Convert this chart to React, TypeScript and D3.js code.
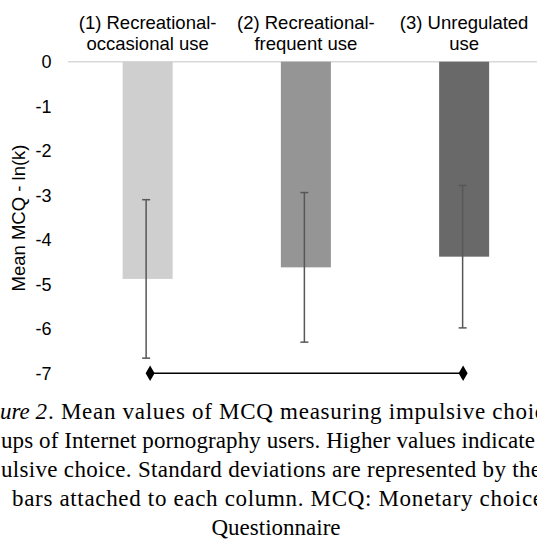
// Bar chart of mean MCQ ln(k) per user group, with SD error bars.

import * as d3 from "d3";

const groups = ["g1", "g2", "g3"];
const groupLabels = [
  ["(1) Recreational-", "occasional use"],
  ["(2) Recreational-", "frequent use"],
  ["(3) Unregulated", "use"],
];
const means = [-4.88, -4.62, -4.38];
const sds = [1.78, 1.68, 1.6];
const barColors = ["#cfcfcf", "#959595", "#696969"];
const yTicks = [0, -1, -2, -3, -4, -5, -6, -7];
// significant difference marker between group 1 and group 3
const comparison = { from: 0, to: 2, value: -7 };

const captionLines = [
  { italic: "ure 2", rest: ". Mean values of MCQ measuring impulsive choic" },
  { italic: "", rest: "ups of Internet pornography users. Higher values indicate" },
  { italic: "", rest: "ulsive choice. Standard deviations are represented by the" },
  { italic: "", rest: "bars attached to each column. MCQ: Monetary choice" },
  { italic: "", rest: "Questionnaire" },
];

export default function App() {
  const width = 537;
  const height = 551;

  const x = d3.scaleBand(groups, [68.5, 543.25]);
  const barW = x.bandwidth() * 0.316;
  const cx = (i: number) => (x(groups[i]) as number) + x.bandwidth() / 2;
  const y = d3.scaleLinear([0, -7], [61.7, 373.3]);

  const sans = "'Liberation Sans', Arial, sans-serif";
  const serif = "'Liberation Serif', 'Times New Roman', serif";

  const diamond = d3.symbol(d3.symbolDiamond, 70)();

  // caption line layout (justified text, cropped at the page edges)
  const capY = (i: number) => 419 + i * 29;
  const capX = [48, 1, 1, 12];
  const capEnd = [545, 535, 541, 543];

  return (
    <svg
      width={width}
      height={height}
      style={{ position: "absolute", left: 0, top: 0, background: "#fff" }}
    >
      {/* group labels on top */}
      <g fontFamily={sans} fontSize={18.5} fill="#000" textAnchor="middle">
        {groupLabels.map((lines, i) =>
          lines.map((t, j) => (
            <text key={`${i}-${j}`} x={cx(i)} y={29 + j * 21}>
              {t}
            </text>
          )),
        )}
      </g>

      {/* zero line */}
      <line x1={68} x2={width} y1={y(0)} y2={y(0)} stroke="#d9d9d9" strokeWidth={1.5} />

      {/* y ticks */}
      <g fontFamily={sans} fontSize={18} fill="#000" textAnchor="end">
        {yTicks.map((t) => (
          <text key={t} x={51.5} y={y(t)} dy="0.36em">
            {t}
          </text>
        ))}
      </g>
      <text
        transform="translate(25, 218) rotate(-90)"
        fontFamily={sans}
        fontSize={18.5}
        textAnchor="middle"
      >
        Mean MCQ - ln(k)
      </text>

      {/* bars */}
      {means.map((m, i) => (
        <rect
          key={i}
          x={cx(i) - barW / 2}
          y={y(0)}
          width={barW}
          height={y(m) - y(0)}
          fill={barColors[i]}
        />
      ))}

      {/* error bars */}
      <g stroke="#575757" strokeWidth={1.5}>
        {means.map((m, i) => (
          <g key={i}>
            <line x1={cx(i) - 1.5} x2={cx(i) - 1.5} y1={y(m + sds[i])} y2={y(m - sds[i])} />
            <line x1={cx(i) - 5.5} x2={cx(i) + 2.5} y1={y(m + sds[i])} y2={y(m + sds[i])} />
            <line x1={cx(i) - 5.5} x2={cx(i) + 2.5} y1={y(m - sds[i])} y2={y(m - sds[i])} />
          </g>
        ))}
      </g>

      {/* comparison line */}
      <line
        x1={cx(comparison.from) + 2.5}
        x2={cx(comparison.to) - 1}
        y1={y(comparison.value)}
        y2={y(comparison.value)}
        stroke="#000"
        strokeWidth={1.5}
      />
      {[cx(comparison.from) + 2.5, cx(comparison.to) - 1].map((px, i) => (
        <path key={i} d={diamond ?? ""} transform={`translate(${px},${y(comparison.value)})`} fill="#000" />
      ))}

      {/* caption */}
      <g fontFamily={serif} fontSize={23} fill="#000">
        {captionLines.map((l, i) => {
          const by = capY(i);
          if (i === 4) {
            return (
              <text key={i} x={276} y={by} textAnchor="middle">
                {l.rest}
              </text>
            );
          }
          return (
            <g key={i}>
              {l.italic && (
                <text x={0} y={by} fontStyle="italic">
                  {l.italic}
                </text>
              )}
              <text x={capX[i]} y={by} textLength={capEnd[i] - capX[i]} lengthAdjust="spacing">
                {l.rest}
              </text>
            </g>
          );
        })}
      </g>
    </svg>
  );
}
